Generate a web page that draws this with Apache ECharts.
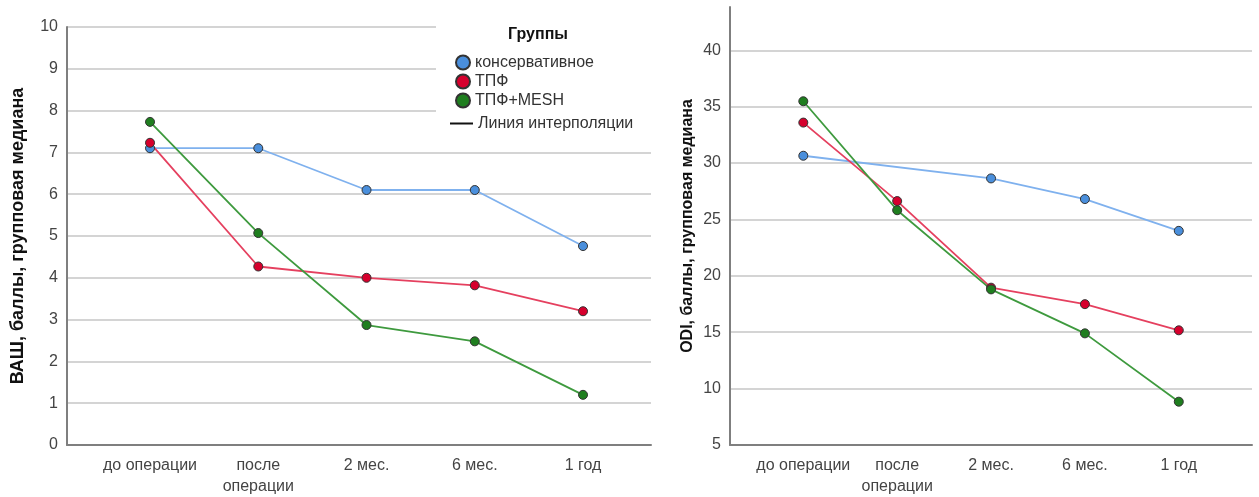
<!DOCTYPE html>
<html>
<head>
<meta charset="utf-8">
<script src="https://cdn.jsdelivr.net/npm/echarts@6/dist/echarts.min.js"></script>
<style>
html,body{margin:0;padding:0;background:#fff;}
#c{width:1259px;height:497px;}
</style>
</head>
<body>
<div id="c"></div>
<script>
// ---- data ----
const categories = ['до операции', 'после\nоперации', '2 мес.', '6 мес.', '1 год'];
const groupNames = ['консервативное', 'ТПФ', 'ТПФ+MESH'];
const interpName = 'Линия интерполяции';

// ВАШ (VAS), group medians
const vasConservative = [7.1, 7.1, 6.1, 6.1, 4.76];
const vasTPF = [7.23, 4.27, 4.0, 3.82, 3.2];
const vasTPFMesh = [7.73, 5.07, 2.87, 2.48, 1.2];

// ODI, group medians (conservative has no value right after operation)
const odiConservative = [30.65, null, 28.64, 26.81, 23.99];
const odiTPF = [33.59, 26.63, 18.95, 17.49, 15.17];
const odiTPFMesh = [35.48, 25.82, 18.8, 14.9, 8.84];

const vasTicks = [0, 1, 2, 3, 4, 5, 6, 7, 8, 9, 10];
const odiTicks = [5, 10, 15, 20, 25, 30, 35, 40];

// ---- styles ----
const markerColors = ['#4a8fdc', '#d6002d', '#1f7e1f'];
const lineColors = ['#7fb1ee', '#e5405f', '#3e9a3e'];
const FONT = '"Liberation Sans", Arial, sans-serif';
const labelColor = '#444';

const chart = echarts.init(document.getElementById('c'), null, {renderer: 'canvas'});

function xAxisCfg(gridIndex, min, max) {
  return {
    type: 'value', gridIndex, min, max,
    axisLine: {show: true, onZero: false, lineStyle: {color: '#7f7f7f', width: 2}},
    axisTick: {show: false},
    splitLine: {show: false},
    axisLabel: {
      customValues: categories.map((_, i) => i),
      formatter: v => categories[Math.round(v)] || '',
      color: labelColor, fontFamily: FONT, fontSize: 16, lineHeight: 21, margin: 10
    }
  };
}
function yAxisCfg(gridIndex, min, max, ticks, name, nameSize, nameGap) {
  return {
    type: 'value', gridIndex, min, max, interval: ticks[1] - ticks[0],
    name, nameLocation: 'middle', nameRotate: 90, nameGap,
    nameTextStyle: {fontFamily: FONT, fontWeight: 'bold', fontSize: nameSize, color: '#111'},
    axisLine: {show: true, onZero: false, lineStyle: {color: '#7f7f7f', width: 2}},
    axisTick: {show: false},
    axisLabel: {customValues: ticks, color: labelColor, fontFamily: FONT, fontSize: 16, margin: 9},
    splitLine: {show: true, showMinLine: false, showMaxLine: ticks[ticks.length - 1] === max,
      lineStyle: {color: '#d4d4d4', width: 2}}
  };
}
function lineSeries(name, data, idx, axisIdx) {
  return {
    type: 'line', name, xAxisIndex: axisIdx, yAxisIndex: axisIdx,
    data: data.map((v, i) => [i, v]),
    connectNulls: true,
    symbol: 'circle', symbolSize: 9,
    itemStyle: {color: markerColors[idx], borderColor: '#333', borderWidth: 1},
    lineStyle: {color: lineColors[idx], width: 1.8},
    emphasis: {disabled: true},
    z: 2
  };
}

const option = {
  animation: false,
  backgroundColor: '#fff',
  grid: [
    {left: 67, right: 608, top: 27, bottom: 49},
    {left: 730, right: 7, top: 7, bottom: 45}
  ],
  xAxis: [xAxisCfg(0, -0.767, 4.628), xAxisCfg(1, -0.781, 4.78)],
  yAxis: [
    yAxisCfg(0, 0, 10, vasTicks, 'ВАШ, баллы, групповая медиана', 18, 40),
    yAxisCfg(1, 5, 43.84, odiTicks, 'ODI, баллы, групповая медиана', 16, 34)
  ],
  graphic: [{
    type: 'rect', z: 3, silent: true,
    shape: {x: 436, y: 17, width: 218, height: 117},
    style: {fill: '#fff'}
  }],
  title: {
    text: 'Группы', left: 538, top: 27, textAlign: 'center', padding: 0,
    textStyle: {fontFamily: FONT, fontWeight: 'bold', fontSize: 16, color: '#111'}
  },
  legend: [
    {
      data: groupNames.map(n => ({name: n, icon: 'circle'})),
      orient: 'vertical', left: 455, top: 54, padding: 0,
      itemWidth: 14, itemHeight: 14, itemGap: 2,
      textStyle: {fontFamily: FONT, fontSize: 16, lineHeight: 17, color: '#333'},
      selectedMode: false
    },
    {
      data: [{name: interpName, icon: 'rect'}],
      orient: 'vertical', left: 450, top: 115, padding: 0,
      itemWidth: 23, itemHeight: 2,
      textStyle: {fontFamily: FONT, fontSize: 16, lineHeight: 17, color: '#333'},
      selectedMode: false
    }
  ],
  series: [
    lineSeries(groupNames[0], vasConservative, 0, 0),
    lineSeries(groupNames[1], vasTPF, 1, 0),
    lineSeries(groupNames[2], vasTPFMesh, 2, 0),
    lineSeries(groupNames[0], odiConservative, 0, 1),
    lineSeries(groupNames[1], odiTPF, 1, 1),
    lineSeries(groupNames[2], odiTPFMesh, 2, 1),
    {type: 'line', name: interpName, xAxisIndex: 0, yAxisIndex: 0, data: [],
      itemStyle: {color: '#111'}, lineStyle: {color: '#111'}}
  ]
};
chart.setOption(option);
</script>
</body>
</html>
